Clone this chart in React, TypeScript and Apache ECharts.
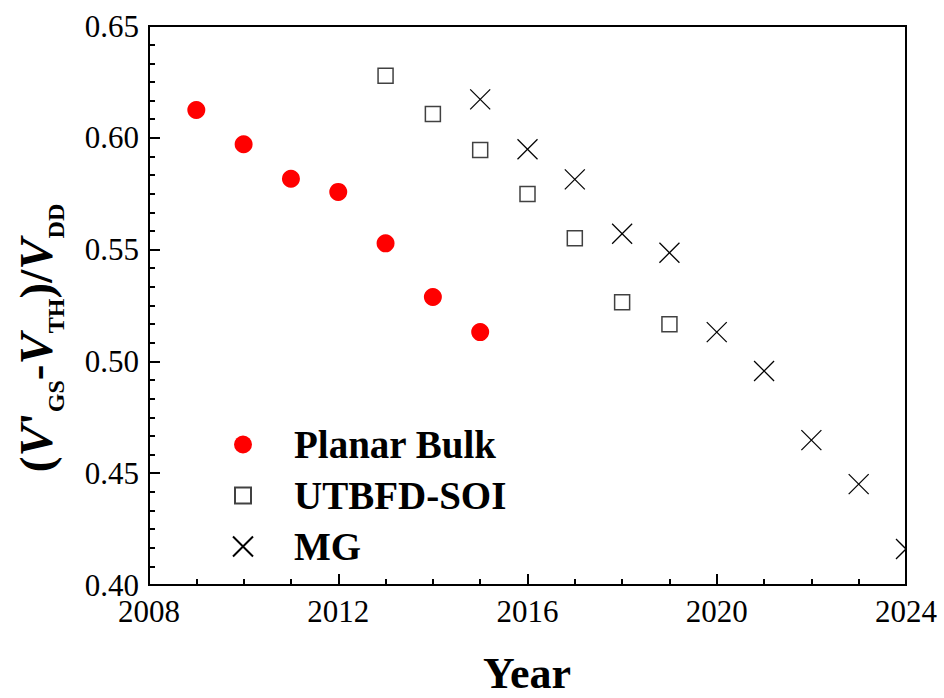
import React, { useEffect, useRef } from "react";
import * as echarts from "echarts";

const SERIF = "'Liberation Serif', 'Times New Roman', Times, serif";

const seriesNames = ["Planar Bulk", "UTBFD-SOI", "MG"];

const planarYears = [2009, 2010, 2011, 2012, 2013, 2014, 2015];
const planarValues = [0.6124, 0.5971, 0.5817, 0.5758, 0.5528, 0.5288, 0.5131];

const soiYears = [2013, 2014, 2015, 2016, 2017, 2018, 2019];
const soiValues = [0.6278, 0.6106, 0.5945, 0.5749, 0.5551, 0.5264, 0.5166];

const mgYears = [2015, 2016, 2017, 2018, 2019, 2020, 2021, 2022, 2023, 2024];
const mgValues = [0.6172, 0.5949, 0.5814, 0.5571, 0.5486, 0.5131, 0.4957, 0.4648, 0.4451, 0.4161];

const xMin = 2008;
const xMax = 2024;
const xStep = 4;
const yMin = 0.4;
const yMax = 0.65;
const yStep = 0.05;

const xTitle = "Year";

const CROSS = "path://M0,0L20,20M20,0L0,20";
const CIRCLE_ICON = "path://M0,0M20,20M1,10A9,9 0 1,1 19,10A9,9 0 1,1 1,10Z";
const SQUARE_ICON = "path://M0,0M20,20M2,2L18,2L18,18L2,18Z";

const zip = (xs: number[], ys: number[]) => xs.map((x, i) => [x, ys[i]]);

export default function App() {
  const ref = useRef<HTMLDivElement>(null);

  useEffect(() => {
    document.body.style.margin = "0";
    if (!ref.current) return;
    const chart = echarts.init(ref.current, undefined, { renderer: "svg" });

    const axisLine = { show: true, onZero: false, lineStyle: { color: "#000", width: 2 } };

    const option: any = {
      animation: false,
      backgroundColor: "#fff",
      grid: {
        left: 149,
        right: 38,
        top: 26,
        bottom: 113,
        show: true,
        borderColor: "#000",
        borderWidth: 2,
        backgroundColor: "transparent",
        containLabel: false,
        outerBoundsMode: "none",
      },
      xAxis: {
        type: "value",
        min: xMin,
        max: xMax,
        interval: xStep,
        axisLine,
        axisTick: { show: true, inside: true, length: 11, lineStyle: { color: "#000", width: 2 } },
        minorTick: { show: true, splitNumber: 4, length: 6, lineStyle: { color: "#000", width: 2 } },
        splitLine: { show: false },
        minorSplitLine: { show: false },
        axisLabel: {
          color: "#000",
          fontFamily: SERIF,
          fontSize: 31,
          lineHeight: 24,
          margin: 14,
          formatter: (v: number) => String(v),
        },
      },
      yAxis: {
        type: "value",
        min: yMin,
        max: yMax,
        interval: yStep,
        axisLine,
        axisTick: { show: true, inside: true, length: 11, lineStyle: { color: "#000", width: 2 } },
        minorTick: { show: true, splitNumber: 6, length: 6, lineStyle: { color: "#000", width: 2 } },
        splitLine: { show: false },
        minorSplitLine: { show: false },
        axisLabel: {
          color: "#000",
          fontFamily: SERIF,
          fontSize: 31,
          lineHeight: 24,
          margin: 10,
          formatter: (v: number) => v.toFixed(2),
        },
      },
      legend: {
        orient: "vertical",
        left: 227,
        top: 414,
        itemWidth: 20,
        itemHeight: 20,
        itemGap: 0,
        selectedMode: false,
        data: [
          { name: seriesNames[0], icon: CIRCLE_ICON },
          { name: seriesNames[1], icon: SQUARE_ICON },
          { name: seriesNames[2], icon: CROSS },
        ],
        textStyle: {
          fontFamily: SERIF,
          fontWeight: "bold",
          fontSize: 39,
          color: "#000",
          lineHeight: 51,
          padding: [0, 0, 0, 36],
        },
      },
      series: [
        {
          name: seriesNames[0],
          type: "scatter",
          symbol: "circle",
          symbolSize: 18,
          itemStyle: { color: "#ff0000", opacity: 1 },
          data: zip(planarYears, planarValues),
        },
        {
          name: seriesNames[1],
          type: "scatter",
          symbol: "rect",
          symbolSize: 15,
          itemStyle: { color: "#fff", borderColor: "#111", borderWidth: 1.5 },
          data: zip(soiYears, soiValues),
        },
        {
          name: seriesNames[2],
          type: "custom",
          clip: true,
          itemStyle: { color: "#fff", borderColor: "#000", borderWidth: 1.3 },
          encode: { x: 0, y: 1 },
          data: zip(mgYears, mgValues),
          renderItem: (params: any, api: any) => {
            const p = api.coord([api.value(0), api.value(1)]);
            const h = 10;
            const style = { stroke: "#000", lineWidth: 1.3, fill: null };
            return {
              type: "group",
              children: [
                { type: "line", shape: { x1: p[0] - h, y1: p[1] - h, x2: p[0] + h, y2: p[1] + h }, style },
                { type: "line", shape: { x1: p[0] + h, y1: p[1] - h, x2: p[0] - h, y2: p[1] + h }, style },
              ],
            };
          },
        },
      ],
      graphic: [
        {
          type: "text",
          x: 36,
          y: 338,
          rotation: Math.PI / 2,
          style: {
            text: "{p|(}{v|V}{p|'}{s|GS}{p|-}{v|V}{s|TH}{p|)/}{v|V}{s|DD}",
            align: "center",
            verticalAlign: "middle",
            fill: "#000",
            rich: {
              p: { fontFamily: SERIF, fontWeight: "bold", fontSize: 47, lineHeight: 64, fill: "#000" },
              v: { fontFamily: SERIF, fontWeight: "bold", fontStyle: "italic", fontSize: 47, lineHeight: 64, fill: "#000" },
              s: { fontFamily: SERIF, fontWeight: "bold", fontSize: 24, lineHeight: 24, verticalAlign: "bottom", fill: "#000" },
            },
          },
        },
        {
          type: "text",
          x: 527,
          y: 673,
          style: {
            text: xTitle,
            fontFamily: SERIF,
            fontWeight: "bold",
            fontSize: 44,
            fill: "#000",
            align: "center",
            verticalAlign: "middle",
          },
        },
      ],
    };

    chart.setOption(option);
    return () => chart.dispose();
  }, []);

  return <div ref={ref} style={{ width: 944, height: 698 }} />;
}
